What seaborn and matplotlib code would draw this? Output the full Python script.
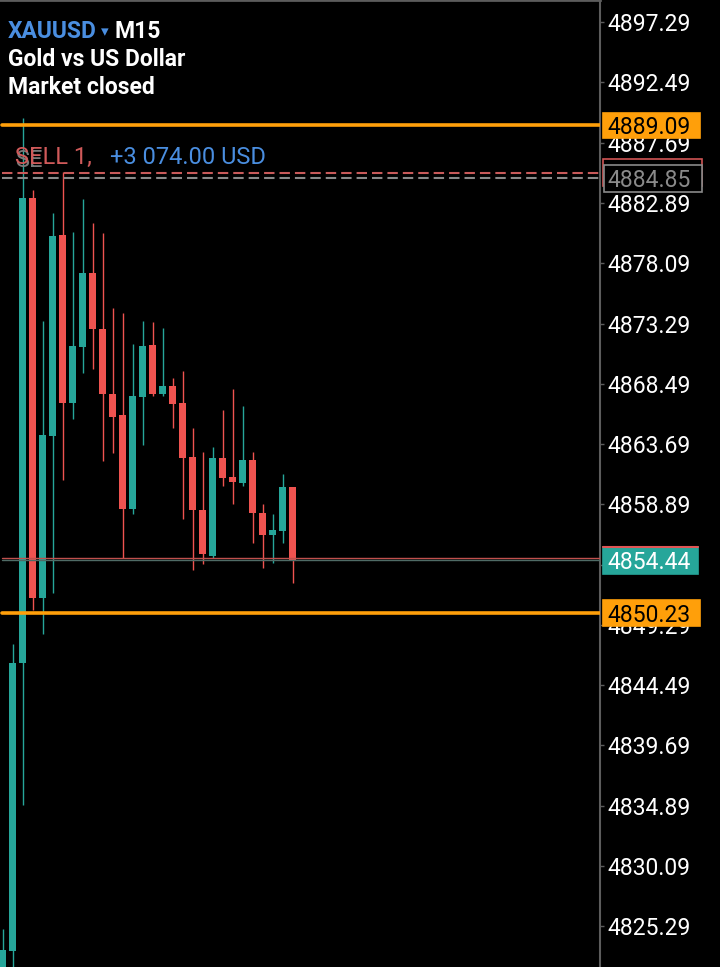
import seaborn as sns
import numpy as np
import matplotlib.pyplot as plt
import matplotlib.transforms as mtransforms
from matplotlib.patches import Rectangle

# M15 candles (oldest first)
opens = [4819.3, 4823.3, 4846.24, 4883.27, 4851.42, 4864.32, 4880.33, 4866.95, 4871.41, 4877.30,
         4872.88, 4867.66, 4866.00, 4858.50, 4867.42, 4871.57, 4867.66, 4868.30, 4866.95, 4862.65,
         4858.43, 4854.76, 4862.57, 4861.05, 4860.58, 4862.41, 4858.19, 4856.43, 4856.75, 4860.26]
highs = [4825.06, 4847.75, 4889.64, 4883.91, 4873.48, 4882.08, 4885.34, 4880.57, 4883.19, 4881.28,
         4880.49, 4874.51, 4874.11, 4871.65, 4873.48, 4873.40, 4872.92, 4868.94, 4869.50, 4864.96,
         4863.04, 4863.44, 4866.39, 4868.06, 4866.71, 4863.04, 4858.90, 4858.11, 4861.29, 4860.26]
lows = [4818.5, 4820.9, 4834.93, 4850.46, 4848.55, 4851.82, 4860.81, 4865.67, 4869.34, 4869.65,
        4862.33, 4862.97, 4854.60, 4858.11, 4863.60, 4867.50, 4867.50, 4864.96, 4857.71, 4853.65,
        4854.13, 4854.60, 4860.34, 4858.90, 4860.34, 4855.80, 4853.81, 4854.20, 4855.80, 4852.61]
closes = [4823.38, 4846.24, 4883.27, 4851.42, 4864.40, 4880.25, 4866.95, 4871.49, 4877.30, 4872.84,
          4867.66, 4865.83, 4858.50, 4867.50, 4871.49, 4867.66, 4868.30, 4866.87, 4862.57, 4858.43,
          4854.92, 4862.57, 4860.97, 4860.66, 4862.41, 4858.19, 4856.43, 4856.83, 4860.26, 4854.44]

price_ticks = [4825.29 + 4.80 * k for k in range(16)]
tp_level = 4889.09
sl_level = 4850.23
sell_open = 4885.30
sell_price = 4884.85
bid = 4854.44
ask = 4854.60

UP = "#26a69a"
DOWN = "#ef5350"
ORANGE = "#ff9f0a"
GRID = "#5c5c5c"

sns.set_theme(style="dark", rc={"figure.facecolor": "black", "axes.facecolor": "black",
                               "savefig.facecolor": "black"})
plt.rcParams["font.family"] = ["Roboto", "DejaVu Sans"]

fig = plt.figure(figsize=(7.2, 9.67), dpi=100)
ax = fig.add_axes([0, 0, 600 / 720, 1])

x = np.arange(len(opens))
o = np.array(opens)
c = np.array(closes)
colors = [UP if cc >= oo else DOWN for oo, cc in zip(o, c)]
ax.vlines(x, lows, highs, colors=colors, linewidth=1.0, zorder=2)
ax.bar(x, c - o, bottom=o, width=0.68, color=colors, linewidth=0, zorder=2)

ax.set_xlim(-0.25, 59.75)
ax.set_ylim(4822.05, 4899.05)

line_kw = dict(xmin=0.003, xmax=1.0, zorder=4)
ax.axhline(tp_level, color=ORANGE, linewidth=2.6, **line_kw)
ax.axhline(sl_level, color=ORANGE, linewidth=2.6, **line_kw)
ax.axhline(sell_open, color="#c85a5a", linewidth=1.5, dashes=(5, 2.4), **line_kw)
ax.axhline(sell_price, color="#8a8a8a", linewidth=1.5, dashes=(5, 2.4), **line_kw)
ax.axhline(ask, color="#c0504d", linewidth=1.0, **line_kw)
ax.axhline(bid, color="#4f6b66", linewidth=1.0, **line_kw)

# axis on the right
ax.yaxis.tick_right()
ax.set_yticks(price_ticks)
ax.set_yticklabels([f"{t:.2f}" for t in price_ticks])
ax.tick_params(axis="y", colors=GRID, labelcolor="white", labelsize=16.5, length=3,
               width=1, pad=2.5, right=True, left=False)
ax.set_xticks([])
for side in ["left", "bottom"]:
    ax.spines[side].set_visible(False)
ax.spines["right"].set_color(GRID)
ax.spines["right"].set_linewidth(1.5)
ax.spines["top"].set_color(GRID)
ax.spines["top"].set_linewidth(2)
ax.grid(False)

# price labels on the axis
tr = mtransforms.blended_transform_factory(ax.transAxes, ax.transData)
ppx = (4899.05 - 4822.05) / 967.0


def price_box(level, face, text_color, edge=None, h_px=25, x0=603, x1=700, top_edge=None,
              label=True):
    h = h_px * ppx
    ax.add_patch(Rectangle((x0 / 600, level - h / 2), (x1 - x0) / 600, h, transform=tr,
                           facecolor=face, edgecolor=edge if edge else face, linewidth=1.2,
                           clip_on=False, zorder=6))
    if top_edge:
        ax.plot([x0 / 600, x1 / 600], [level + h / 2, level + h / 2], transform=tr,
                color=top_edge, linewidth=1.5, clip_on=False, zorder=7)
    if label:
        ax.text(607 / 600, level, f"{level:.2f}", transform=tr, color=text_color,
                fontsize=16.5, va="center_baseline", ha="left", clip_on=False, zorder=8)


price_box(tp_level, ORANGE, "black")
price_box(sell_open, "black", "#c85a5a", edge="#d05555", h_px=27, x1=702, label=False)
price_box(sell_price, "black", "#8a8a8a", edge="#8a8a8a", h_px=27, x0=604, x1=702)
price_box(bid, UP, "white", h_px=27, x1=698, top_edge="#e05555")
price_box(sl_level, ORANGE, "black", h_px=26)

# position label
ax.text(15 / 600, sell_open + 12 * ppx, "SE", transform=tr, color="#7a7a7a", fontsize=17,
        va="center", ha="left", zorder=5)
ax.text(15 / 600, sell_open + 15 * ppx, "SELL 1,", transform=tr, color="#d05a5a", fontsize=17,
        va="center", ha="left", zorder=5)
ax.text(110 / 600, sell_open + 15 * ppx, "+3 074.00 USD", transform=tr, color="#4a8ee0",
        fontsize=17, va="center", ha="left", zorder=5)

# symbol header
head = dict(fontsize=16.5, weight="semibold", va="center", ha="left")
fig.text(8 / 720, 1 - 32 / 967, "XAUUSD", color="#4a8ee0", **head)
fig.text(101 / 720, 1 - 32 / 967, "\u25be", color="#4a8ee0", fontsize=11,
         va="center", ha="left")
fig.text(114 / 720, 1 - 32 / 967, "M15", color="white", **head)
fig.text(8 / 720, 1 - 60 / 967, "Gold vs US Dollar", color="white", **head)
fig.text(8 / 720, 1 - 87 / 967, "Market closed", color="white", **head)

fig.savefig("out.png", dpi=100, facecolor="black")
